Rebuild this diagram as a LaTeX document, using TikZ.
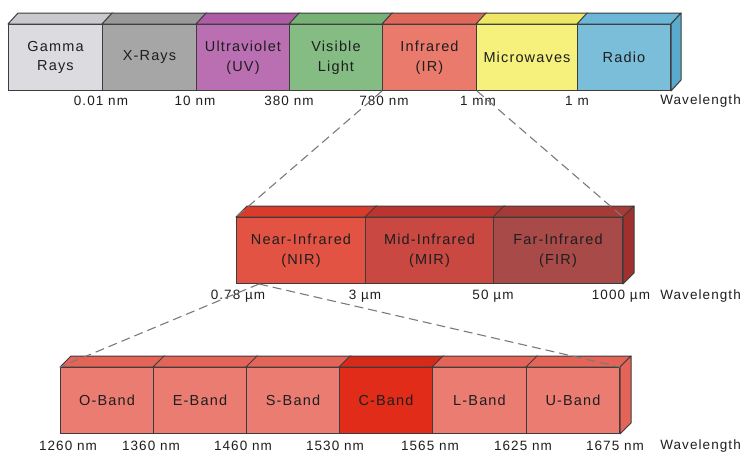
\documentclass[tikz,border=0pt]{standalone}
\usepackage{fontspec}
\setmainfont{Liberation Sans}[LetterSpace=8]
\usetikzlibrary{calc}
\definecolor{edge}{HTML}{3C3C3C}
\definecolor{txt}{HTML}{1E1E1E}
\definecolor{dashc}{HTML}{7A7A7A}
\definecolor{gammaF}{HTML}{DCDCE0}\definecolor{gammaT}{HTML}{CACACE}
\definecolor{xrayF}{HTML}{A6A6A6}\definecolor{xrayT}{HTML}{999999}
\definecolor{uvF}{HTML}{BA6FB2}\definecolor{uvT}{HTML}{AE5CA6}
\definecolor{visF}{HTML}{84BC84}\definecolor{visT}{HTML}{76B276}
\definecolor{irF}{HTML}{EA7A6C}\definecolor{irT}{HTML}{E0685A}
\definecolor{mwF}{HTML}{F6F07C}\definecolor{mwT}{HTML}{EEE664}
\definecolor{radioF}{HTML}{7ABEDA}\definecolor{radioT}{HTML}{6CB6D6}\definecolor{radioS}{HTML}{5AAACE}
\definecolor{nirF}{HTML}{E35343}\definecolor{nirT}{HTML}{DA3B2A}
\definecolor{mirF}{HTML}{C94842}\definecolor{mirT}{HTML}{BB3430}
\definecolor{firF}{HTML}{A84A48}\definecolor{firT}{HTML}{A63A36}\definecolor{firS}{HTML}{A0302E}
\definecolor{bandF}{HTML}{EA7C72}\definecolor{bandT}{HTML}{E46458}\definecolor{bandS}{HTML}{E46458}
\definecolor{cF}{HTML}{E02C18}\definecolor{cT}{HTML}{D82A18}
\begin{document}
\begin{tikzpicture}[x=1pt,y=-1pt,
  seg/.style={draw=edge, line width=1pt, minimum height=66pt, inner sep=0pt, align=center,
    font=\fontsize{14.5}{19.5}\selectfont, text=txt, anchor=north west},
  lbl/.style={font=\fontsize{13.5}{16}\selectfont, text=txt, inner sep=0pt},
  face/.style={draw=edge, line width=1pt, line join=round},
  guide/.style={draw=dashc, line width=1.1pt, dash pattern=on 9pt off 5pt}]
\useasboundingbox (0,0) rectangle (743,453);
% ---------- top bar ----------
\node[seg, fill=gammaF, minimum width=94pt] (gamma) at (8,24) {Gamma\\Rays};
\node[seg, fill=xrayF, minimum width=94pt] (xray) at (102,24) {X-Rays};
\node[seg, fill=uvF, minimum width=93pt] (uv) at (196,24) {Ultraviolet\\(UV)};
\node[seg, fill=visF, minimum width=93pt] (vis) at (289,24) {Visible\\Light};
\node[seg, fill=irF, minimum width=94pt] (ir) at (382,24) {Infrared\\(IR)};
\node[seg, fill=mwF, minimum width=101pt] (mw) at (476,24) {Microwaves};
\node[seg, fill=radioF, minimum width=93pt] (radio) at (577,24) {Radio};
\foreach \n/\c in {gamma/gammaT, xray/xrayT, uv/uvT, vis/visT, ir/irT, mw/mwT, radio/radioT}
  \path[face, fill=\c] (\n.north west) -- ++(10,-11) -- ($(\n.north east)+(10,-11)$) -- (\n.north east) -- cycle;
\path[face, fill=radioS] (radio.north east) -- ++(10,-11) -- ($(radio.south east)+(10,-11)$) -- (radio.south east) -- cycle;
\node[lbl] (t1) at (101,101) {0.01 nm};
\node[lbl] (t2) at (195,101) {10 nm};
\node[lbl] (t3) at (289,101) {380 nm};
\node[lbl] (t4) at (384,101) {780 nm};
\node[lbl] (t5) at (478,101) {1 mm};
\node[lbl] (t6) at (577,101) {1 m};
\node[lbl, anchor=east] (tw) at (741,101) {Wavelength};
% ---------- middle bar ----------
\node[seg, fill=nirF, minimum width=129pt] (nir) at (236,217) {Near-Infrared\\(NIR)};
\node[seg, fill=mirF, minimum width=128pt] (mir) at (365,217) {Mid-Infrared\\(MIR)};
\node[seg, fill=firF, minimum width=129pt] (fir) at (493,217) {Far-Infrared\\(FIR)};
\foreach \n/\c in {nir/nirT, mir/mirT, fir/firT}
  \path[face, fill=\c] (\n.north west) -- ++(11,-11) -- ($(\n.north east)+(11,-11)$) -- (\n.north east) -- cycle;
\path[face, fill=firS] (fir.north east) -- ++(11,-11) -- ($(fir.south east)+(11,-11)$) -- (fir.south east) -- cycle;
\node[lbl] (m1) at (238,296) {0.78 µm};
\node[lbl] (m2) at (365,296) {3 µm};
\node[lbl] (m3) at (493,296) {50 µm};
\node[lbl] (m4) at (621,296) {1000 µm};
\node[lbl, anchor=east] (mw2) at (741,296) {Wavelength};
% ---------- bottom bar ----------
\node[seg, fill=bandF, minimum width=93pt] (oband) at (60,367) {O-Band};
\node[seg, fill=bandF, minimum width=93pt] (eband) at (153,367) {E-Band};
\node[seg, fill=bandF, minimum width=93pt] (sband) at (246,367) {S-Band};
\node[seg, fill=cF, minimum width=93pt] (cband) at (339,367) {C-Band};
\node[seg, fill=bandF, minimum width=94pt] (lband) at (432,367) {L-Band};
\node[seg, fill=bandF, minimum width=93pt] (uband) at (526,367) {U-Band};
\foreach \n/\c in {oband/bandT, eband/bandT, sband/bandT, cband/cT, lband/bandT, uband/bandT}
  \path[face, fill=\c] (\n.north west) -- ++(11,-11) -- ($(\n.north east)+(11,-11)$) -- (\n.north east) -- cycle;
\path[face, fill=bandS] (uband.north east) -- ++(11,-11) -- ($(uband.south east)+(11,-11)$) -- (uband.south east) -- cycle;
\node[lbl] (b1) at (68,446) {1260 nm};
\node[lbl] (b2) at (151,446) {1360 nm};
\node[lbl] (b3) at (243,446) {1460 nm};
\node[lbl] (b4) at (335,446) {1530 nm};
\node[lbl] (b5) at (430,446) {1565 nm};
\node[lbl] (b6) at (523,446) {1625 nm};
\node[lbl] (b7) at (615,446) {1675 nm};
\node[lbl, anchor=east] (bw) at (741,446) {Wavelength};
% ---------- zoom guides ----------
\coordinate (split) at ($(nir.south west)+(23,0)$);
\draw[guide] (ir.south west) -- (nir.north west);
\draw[guide] (ir.south east) -- (fir.north east);
\draw[guide] (split) -- (oband.north west);
\draw[guide] (split) -- (uband.north east);
\end{tikzpicture}
\end{document}
